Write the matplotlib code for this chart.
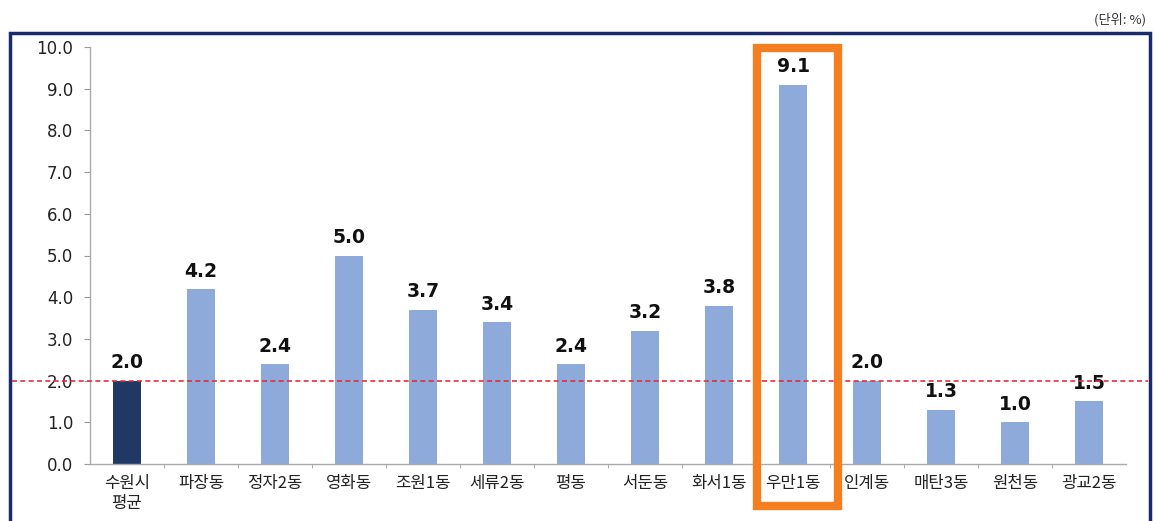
import matplotlib
matplotlib.use("Agg")
import matplotlib.pyplot as plt
from matplotlib.patches import Rectangle
from matplotlib.lines import Line2D

plt.rcParams['font.family'] = ['Noto Sans CJK KR', 'DejaVu Sans']

categories = ["수원시\n평균", "파장동", "정자2동", "영화동", "조원1동", "세류2동", "평동",
              "서둔동", "화서1동", "우만1동", "인계동", "매탄3동", "원천동", "광교2동"]
values = [2.0, 4.2, 2.4, 5.0, 3.7, 3.4, 2.4, 3.2, 3.8, 9.1, 2.0, 1.3, 1.0, 1.5]
yticks = [0, 1, 2, 3, 4, 5, 6, 7, 8, 9, 10]
average = 2.0
highlight_index = 9

W, H = 1156, 521
fig = plt.figure(figsize=(W / 100, H / 100), dpi=100)

# outer frame
fig.add_artist(Rectangle((10 / W, -0.05), (1150 - 10) / W, 1.05 - 33 / H,
                         transform=fig.transFigure, fill=False,
                         edgecolor='#1a2a6c', linewidth=2.5))
fig.text(1146 / W, 1 - 20 / H, "(단위: %)", ha='right', va='center', fontsize=9.5, color='#333333')

ax = fig.add_axes([90 / W, 1 - 464 / H, (1126 - 90) / W, (464 - 47) / H])
x = list(range(len(categories)))
colors = ['#1f3864' if i == 0 else '#8eaadb' for i in x]
ax.bar(x, values, width=0.38, color=colors, zorder=2)

for xi, v in zip(x, values):
    ax.text(xi, v + 0.2, f"{v:.1f}", ha='center', va='bottom', fontsize=13.5,
            fontweight='bold', color='#111111', family=['DejaVu Sans'])

ax.set_xlim(-0.5, len(categories) - 0.5)
ax.set_ylim(0, 10)
ax.set_yticks(yticks)
ax.set_yticklabels([f"{t:.1f}" for t in yticks], fontsize=12, color='#222222',
                   family=['DejaVu Sans'])
ax.set_xticks(x)
ax.set_xticklabels(categories, fontsize=12, color='#222222', linespacing=1.25)
ax.tick_params(axis='x', length=0, pad=8)
ax.tick_params(axis='y', length=4, color='#999999', pad=8)
ax.set_xticks([i + 0.5 for i in x[:-1]], minor=True)
ax.tick_params(axis='x', which='minor', length=3, color='#999999')
for s in ['top', 'right']:
    ax.spines[s].set_visible(False)
for s in ['left', 'bottom']:
    ax.spines[s].set_color('#aaaaaa')
    ax.spines[s].set_linewidth(1.0)

# average dashed line across the frame
fig.add_artist(Line2D([12 / W, 1148 / W], [1 - 381 / H, 1 - 381 / H],
                      transform=fig.transFigure, color='#e0303a',
                      linestyle=(0, (3, 2)), linewidth=1.2, zorder=5))

# highlight box
bx0, bx1 = 757 / W, 838 / W
by0, by1 = 1 - 506 / H, 1 - 48 / H
fig.add_artist(Rectangle((bx0, by0), bx1 - bx0, by1 - by0, transform=fig.transFigure,
                         fill=False, edgecolor='#f47f20', linewidth=6, zorder=6))

fig.savefig("out.png", dpi=100)
